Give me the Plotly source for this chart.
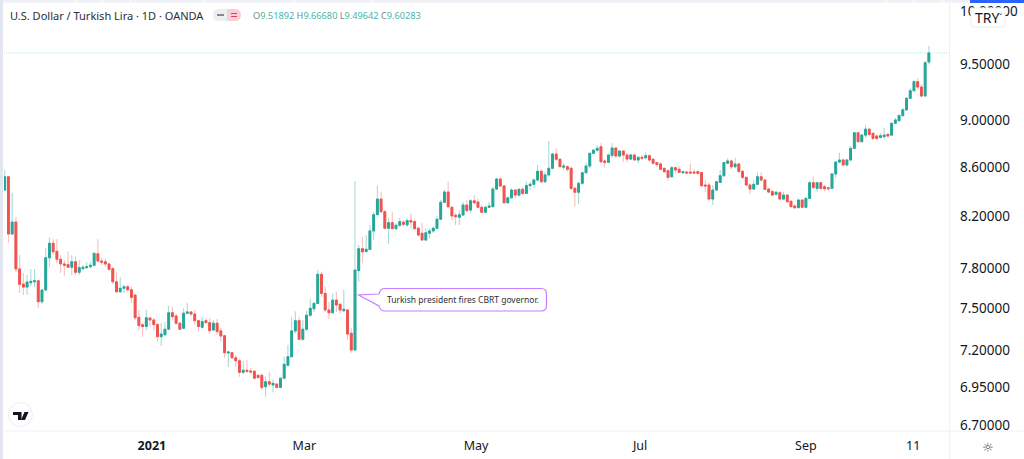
import plotly.graph_objects as go

# Daily USD/TRY candles
opens = [
 8.410,8.519,8.060,8.154,7.792,7.679,7.657,7.689,7.696,7.704,
 7.549,7.635,7.877,7.988,7.926,7.865,7.830,7.825,7.805,7.847,
 7.767,7.795,7.802,7.809,7.820,7.908,7.852,7.847,7.830,7.794,
 7.696,7.622,7.648,7.659,7.637,7.598,7.436,7.382,7.370,7.431,
 7.417,7.384,7.298,7.312,7.351,7.469,7.446,7.394,7.358,7.465,
 7.475,7.460,7.412,7.365,7.412,7.398,7.346,7.394,7.339,7.305,
 7.184,7.186,7.151,7.130,7.051,7.065,7.060,7.058,7.030,7.030,
 6.954,6.987,6.965,6.971,6.949,7.011,7.100,7.158,7.339,7.412,
 7.280,7.351,7.451,7.498,7.537,7.752,7.610,7.489,7.469,7.561,
 7.530,7.484,7.489,7.322,7.205,7.780,7.946,7.925,7.940,8.084,
 8.212,8.337,8.236,8.105,8.149,8.102,8.128,8.152,8.131,8.165,
 8.157,8.105,8.066,8.013,8.066,8.084,8.105,8.176,8.311,8.394,
 8.271,8.207,8.191,8.209,8.289,8.249,8.323,8.313,8.271,8.231,
 8.271,8.276,8.418,8.500,8.443,8.307,8.347,8.410,8.369,8.416,
 8.383,8.446,8.457,8.492,8.564,8.478,8.534,8.589,8.708,8.664,
 8.598,8.602,8.589,8.424,8.392,8.465,8.552,8.608,8.714,8.741,
 8.770,8.650,8.639,8.697,8.759,8.691,8.733,8.700,8.666,8.700,
 8.658,8.680,8.677,8.694,8.664,8.636,8.625,8.589,8.569,8.519,
 8.594,8.581,8.553,8.558,8.558,8.558,8.561,8.553,8.451,8.451,
 8.337,8.410,8.473,8.527,8.631,8.650,8.602,8.625,8.563,8.514,
 8.451,8.418,8.457,8.519,8.492,8.418,8.397,8.376,8.388,8.337,
 8.369,8.319,8.281,8.268,8.329,8.271,8.342,8.470,8.424,8.470,
 8.437,8.429,8.424,8.542,8.641,8.658,8.617,8.658,8.756,8.889,
 8.813,8.869,8.920,8.884,8.861,8.849,8.855,8.875,8.869,8.971,
 8.994,9.038,9.088,9.190,9.258,9.339,9.291,9.211,9.51892]
highs = [
 8.575,8.525,8.388,8.196,7.898,7.762,7.747,7.792,7.792,7.710,
 7.639,7.952,8.034,8.021,8.021,7.898,7.860,7.923,7.898,7.885,
 7.860,7.822,7.845,7.845,7.913,8.021,7.875,7.868,7.840,7.807,
 7.765,7.731,7.672,7.672,7.659,7.600,7.489,7.396,7.489,7.436,
 7.431,7.394,7.396,7.405,7.518,7.513,7.460,7.405,7.501,7.542,
 7.477,7.489,7.417,7.440,7.431,7.431,7.417,7.424,7.360,7.310,
 7.193,7.193,7.170,7.147,7.130,7.135,7.080,7.067,7.039,7.044,
 7.025,7.055,7.003,6.980,7.016,7.158,7.240,7.436,7.479,7.441,
 7.417,7.484,7.573,7.549,7.784,7.772,7.659,7.549,7.610,7.622,
 7.542,7.635,7.494,7.358,8.484,7.975,8.038,8.050,8.131,8.236,
 8.446,8.397,8.249,8.184,8.236,8.144,8.186,8.170,8.183,8.223,
 8.176,8.117,8.149,8.105,8.105,8.117,8.202,8.329,8.410,8.478,
 8.281,8.223,8.249,8.315,8.329,8.337,8.369,8.342,8.287,8.281,
 8.315,8.438,8.511,8.511,8.451,8.355,8.424,8.421,8.424,8.437,
 8.478,8.478,8.506,8.617,8.581,8.561,8.819,8.719,8.756,8.672,
 8.631,8.617,8.600,8.437,8.478,8.561,8.635,8.719,8.747,8.783,
 8.799,8.664,8.713,8.799,8.765,8.741,8.741,8.719,8.713,8.713,
 8.691,8.700,8.727,8.706,8.672,8.639,8.644,8.594,8.581,8.608,
 8.602,8.608,8.569,8.567,8.625,8.581,8.575,8.561,8.492,8.470,
 8.451,8.486,8.575,8.644,8.672,8.664,8.680,8.631,8.575,8.519,
 8.465,8.492,8.555,8.553,8.498,8.424,8.410,8.405,8.402,8.397,
 8.378,8.329,8.297,8.342,8.335,8.355,8.484,8.519,8.478,8.478,
 8.451,8.435,8.550,8.650,8.719,8.669,8.669,8.776,8.895,8.895,
 8.878,8.954,8.931,8.895,8.878,8.887,8.931,8.887,8.977,9.017,
 9.053,9.105,9.201,9.281,9.354,9.372,9.313,9.528,9.6668]
lows = [
 8.405,7.992,8.055,7.772,7.613,7.598,7.598,7.665,7.657,7.503,
 7.532,7.630,7.809,7.898,7.837,7.762,7.739,7.800,7.747,7.747,
 7.747,7.785,7.792,7.800,7.812,7.837,7.822,7.807,7.779,7.679,
 7.615,7.613,7.613,7.622,7.539,7.417,7.341,7.298,7.346,7.370,
 7.341,7.263,7.233,7.303,7.346,7.417,7.382,7.346,7.351,7.460,
 7.446,7.382,7.334,7.357,7.396,7.319,7.334,7.310,7.263,7.149,
 7.087,7.142,7.089,7.020,7.039,7.044,7.044,7.003,7.003,6.932,
 6.887,6.954,6.914,6.943,6.945,7.003,7.089,7.154,7.322,7.275,
 7.270,7.341,7.441,7.475,7.532,7.581,7.475,7.422,7.465,7.475,
 7.465,7.475,7.275,7.186,7.200,7.696,7.835,7.915,7.937,8.013,
 8.207,8.223,8.098,7.982,8.097,8.092,8.113,8.123,8.117,8.105,
 8.097,8.039,8.010,8.008,8.028,8.068,8.097,8.170,8.303,8.263,
 8.170,8.131,8.131,8.204,8.236,8.223,8.297,8.260,8.223,8.223,
 8.265,8.271,8.410,8.437,8.303,8.303,8.342,8.342,8.355,8.369,
 8.378,8.410,8.424,8.478,8.465,8.470,8.519,8.581,8.644,8.598,
 8.575,8.561,8.410,8.276,8.297,8.451,8.547,8.589,8.708,8.727,
 8.630,8.594,8.630,8.672,8.680,8.680,8.644,8.639,8.658,8.652,
 8.631,8.658,8.664,8.644,8.625,8.602,8.575,8.548,8.486,8.511,
 8.548,8.548,8.542,8.539,8.539,8.542,8.542,8.432,8.394,8.323,
 8.289,8.404,8.465,8.519,8.622,8.581,8.589,8.548,8.500,8.443,
 8.378,8.416,8.451,8.478,8.410,8.383,8.361,8.363,8.329,8.329,
 8.307,8.271,8.257,8.263,8.265,8.265,8.337,8.410,8.397,8.410,
 8.402,8.410,8.418,8.508,8.631,8.602,8.602,8.650,8.750,8.804,
 8.804,8.844,8.861,8.827,8.827,8.841,8.841,8.846,8.865,8.965,
 8.983,9.026,9.079,9.184,9.251,9.264,9.200,9.206,9.49642]
closes = [
 8.519,8.060,8.154,7.792,7.677,7.657,7.694,7.699,7.704,7.549,
 7.635,7.877,7.988,7.923,7.865,7.830,7.820,7.805,7.847,7.767,
 7.802,7.805,7.809,7.820,7.911,7.852,7.843,7.830,7.790,7.696,
 7.622,7.648,7.659,7.637,7.581,7.433,7.377,7.370,7.433,7.417,
 7.384,7.298,7.317,7.351,7.469,7.441,7.394,7.351,7.465,7.475,
 7.460,7.412,7.370,7.405,7.398,7.341,7.394,7.334,7.303,7.186,
 7.191,7.151,7.130,7.051,7.065,7.058,7.053,7.011,7.016,6.949,
 6.987,6.971,6.976,6.949,7.011,7.106,7.158,7.339,7.412,7.280,
 7.351,7.451,7.501,7.537,7.752,7.610,7.489,7.469,7.561,7.525,
 7.489,7.494,7.317,7.205,7.784,7.946,7.923,7.942,8.084,8.212,
 8.337,8.236,8.105,8.149,8.102,8.128,8.157,8.136,8.165,8.154,
 8.102,8.052,8.013,8.070,8.084,8.105,8.176,8.311,8.394,8.276,
 8.202,8.196,8.212,8.289,8.244,8.323,8.307,8.271,8.231,8.271,
 8.281,8.418,8.500,8.443,8.307,8.347,8.410,8.369,8.416,8.383,
 8.446,8.457,8.492,8.564,8.478,8.534,8.589,8.708,8.664,8.602,
 8.608,8.581,8.424,8.392,8.465,8.552,8.608,8.714,8.741,8.756,
 8.644,8.639,8.700,8.759,8.691,8.733,8.700,8.666,8.700,8.658,
 8.680,8.672,8.694,8.658,8.631,8.620,8.581,8.561,8.514,8.594,
 8.575,8.556,8.561,8.550,8.550,8.550,8.547,8.446,8.443,8.337,
 8.410,8.478,8.527,8.636,8.650,8.602,8.625,8.563,8.514,8.451,
 8.418,8.457,8.519,8.492,8.416,8.394,8.369,8.392,8.337,8.369,
 8.315,8.276,8.268,8.329,8.271,8.342,8.470,8.432,8.470,8.424,
 8.421,8.421,8.542,8.641,8.658,8.617,8.658,8.756,8.889,8.813,
 8.869,8.920,8.875,8.841,8.841,8.864,8.869,8.861,8.971,9.000,
 9.038,9.088,9.190,9.258,9.339,9.291,9.211,9.512,9.60283]

sessions = list(range(len(opens)))
price_ticks = [6.7, 6.95, 7.2, 7.5, 7.8, 8.2, 8.6, 9.0, 9.5, 10.0]
price_labels = ["6.70000", "6.95000", "7.20000", "7.50000", "7.80000",
                "8.20000", "8.60000", "9.00000", "9.50000", "10.00000"]
date_ticks = [39.5, 80.4, 126.5, 170.5, 215, 243.8]   # session number of each label
date_labels = ["<b>2021</b>", "Mar", "May", "Jul", "Sep", "11"]
last_price = closes[-1]
ohlc_labels = ["O", "H", "L", "C"]
ohlc_values = ["9.51892", "9.66680", "9.49642", "9.60283"]
title_text = "U.S. Dollar / Turkish Lira · 1D · OANDA"
callout_text = "Turkish president fires CBRT governor."

W, H = 1024, 459
ML, MR, MT, MB = 4, 75, 3, 28
GREEN, RED = "#26a69a", "#ef5350"
GREEN_W, RED_W = "#a8dcd7", "#f9c0be"
FONT = "Noto Sans"
INK = "#131722"


def px(x):
    return (x - ML) / (W - ML - MR)


def py(y):
    return 1 - (y - MT) / (H - MT - MB)


def path(pts):
    parts = []
    for cmd in pts:
        if isinstance(cmd, str):
            parts.append(cmd)
        else:
            parts.append(f"{px(cmd[0]):.5f},{py(cmd[1]):.5f}")
    return " ".join(parts)


def rect(x0, y0, x1, y1, color):
    return dict(type="rect", xref="paper", yref="paper", layer="above",
                x0=px(x0), x1=px(x1), y0=py(y0), y1=py(y1),
                fillcolor=color, line=dict(width=0))


def filled(pts, color, line=None, lw=0):
    return dict(type="path", xref="paper", yref="paper", layer="above",
                path=path(pts), fillcolor=color,
                line=dict(color=line or color, width=lw))


def text(x, y, s, size, color=INK, anchor="left", family=FONT):
    return dict(xref="paper", yref="paper", x=px(x), y=py(y), text=s, showarrow=False,
                xanchor=anchor, yanchor="middle", align=anchor,
                font=dict(family=family, size=size, color=color),
                borderpad=0, borderwidth=0)


fig = go.Figure()
# wicks (pale), then bodies over them
fig.add_trace(go.Candlestick(
    x=sessions, open=opens, high=highs, low=lows, close=closes,
    whiskerwidth=0,
    increasing=dict(line=dict(color=GREEN_W, width=1.1), fillcolor=GREEN_W),
    decreasing=dict(line=dict(color=RED_W, width=1.1), fillcolor=RED_W),
    showlegend=False, hoverinfo="skip"))
fig.add_trace(go.Candlestick(
    x=sessions, open=opens, close=closes,
    high=[max(a, b) for a, b in zip(opens, closes)],
    low=[min(a, b) for a, b in zip(opens, closes)],
    whiskerwidth=0,
    increasing=dict(line=dict(color=GREEN, width=1), fillcolor=GREEN),
    decreasing=dict(line=dict(color=RED, width=1), fillcolor=RED),
    showlegend=False, hoverinfo="skip"))

shapes = [
    dict(type="line", xref="paper", yref="y", x0=0, x1=1, y0=last_price, y1=last_price,
         layer="below", line=dict(color="#c4e8e4", width=1, dash="1px,1px")),
    rect(0, 0, W, 2.5, "#eef0f6"),
    rect(970, 0, W, 3, "#2962ff"),
    rect(0, 0, 3, H, "#e3e6ef"),
    rect(949, 3, 950, H, "#eff1f6"),
    rect(4, 430.5, 1024, 431.5, "#eff1f6"),
]
for sx in [75, 102, 130, 203, 294, 372, 886, 913, 942]:
    shapes.append(rect(sx, 0, sx + 1, 2.5, "#ffffff"))

# callout bubble with its tail
shapes.append(filled([
    "M", (385, 288.5), "L", (541, 288.5), "Q", (546.5, 288.5), (546.5, 294),
    "L", (546.5, 305.5), "Q", (546.5, 311), (541, 311),
    "L", (385, 311), "Q", (380, 311), (379, 306),
    "L", (358.5, 295), "L", (379, 294), "Q", (380, 288.5), (385, 288.5), "Z"],
    "#ffffff", "#c77dff", 1.2))

# logo badge
shapes.append(dict(type="circle", xref="paper", yref="paper", layer="above",
                   x0=px(8.5), x1=px(32.5), y0=py(402.5), y1=py(426.5),
                   fillcolor="#ffffff", line=dict(color="#eceef2", width=1)))
shapes.append(filled(["M", (13, 412), "L", (21.5, 412), "L", (21.5, 420), "L", (18, 420),
                      "L", (18, 415), "L", (13, 415), "Z"], "#131722"))
shapes.append(filled(["M", (24.5, 412), "L", (28.5, 412), "L", (25, 420), "L", (21, 420), "Z"], "#131722"))

# pill next to the title
shapes.append(filled(["M", (219, 9), "L", (227, 9), "L", (227, 21), "L", (219, 21),
                      "Q", (213, 21), (213, 15), "Q", (213, 9), (219, 9), "Z"], "#eceef2"))
shapes.append(filled(["M", (227, 9), "L", (235, 9), "Q", (241, 9), (241, 15),
                      "Q", (241, 21), (235, 21), "L", (227, 21), "Z"], "#fbcfd6"))
shapes.append(rect(217, 14, 224, 16, "#868993"))
shapes.append(rect(231, 13, 237, 14, "#e0405a"))
shapes.append(rect(231, 16, 237, 17, "#e0405a"))

# currency button
shapes.append(filled(["M", (973, 8), "L", (1003, 8), "Q", (1005, 8), (1005, 10), "L", (1005, 25),
                      "Q", (1005, 27), (1003, 27), "L", (973, 27), "Q", (971, 27), (971, 25),
                      "L", (971, 10), "Q", (971, 8), (973, 8), "Z"],
                     "#ffffff", "#eceef2", 1))

ohlc = " ".join(
    f'<span style="color:#788690">{k}</span><span style="color:#4cb5aa">{v}</span>'
    for k, v in zip(ohlc_labels, ohlc_values))
annotations = [
    text(10, 15, title_text, 11, "#2a2e39"),
    text(253, 15.5, ohlc, 9.2),
    text(387, 299.5, callout_text, 8.5, "#2a2e39"),
    text(975, 17.5, "TRY", 14),
    text(999, 18, "ˇ", 8),
    text(988, 447, "☼", 13, "#50535e", "center", "DejaVu Sans"),
]

fig.update_layout(
    width=W, height=H, margin=dict(l=ML, r=MR, t=MT, b=MB),
    paper_bgcolor="#ffffff", plot_bgcolor="#ffffff",
    boxmode="overlay", boxgap=0.3,
    shapes=shapes, annotations=annotations, showlegend=False,
    font=dict(family=FONT, size=13, color=INK),
    xaxis=dict(range=[-0.19, 253.4], rangeslider=dict(visible=False), showgrid=False,
               zeroline=False, showline=False, tickmode="array", tickvals=date_ticks,
               ticktext=date_labels, ticks="", ticklabelstandoff=5,
               tickfont=dict(family=FONT, size=12.5, color=INK)),
    yaxis=dict(type="log", side="right", range=[0.82360, 1.00336], autorange=False,
               showgrid=False, zeroline=False, showline=False, tickmode="array",
               tickvals=price_ticks, ticktext=price_labels, ticks="",
               ticklabelstandoff=10, tickfont=dict(family=FONT, size=13.5, color=INK)),
)

fig.write_html("out.html", config={"displayModeBar": False},
               post_script="document.body.style.margin='0';document.documentElement.style.overflow='hidden';")
